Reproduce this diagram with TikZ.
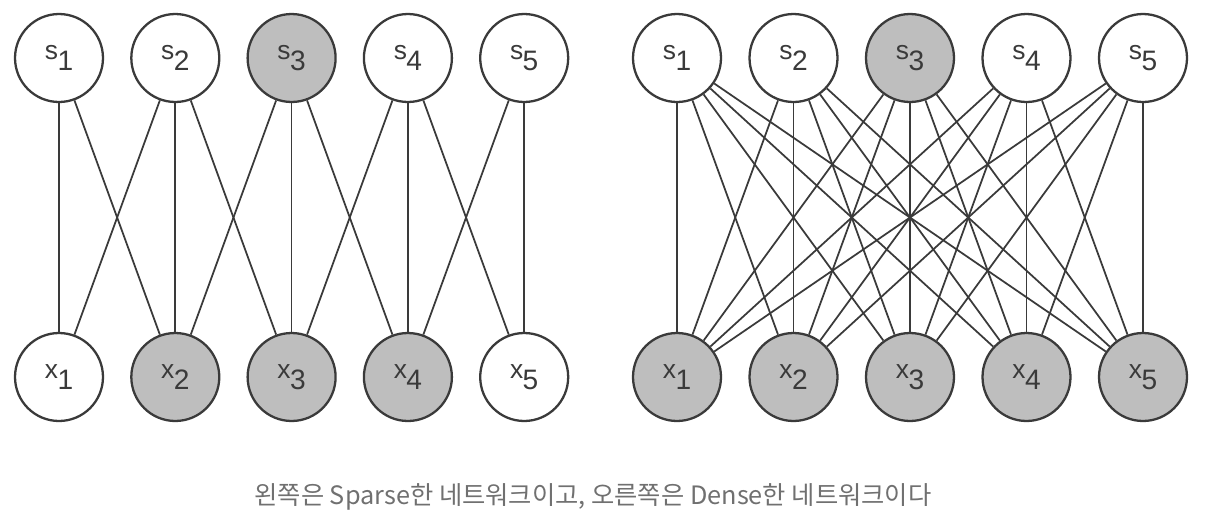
\documentclass[tikz,border=0pt]{standalone}
\usepackage{fontspec}
\setmainfont{Liberation Sans}
\newfontfamily\kofont{Noto Sans CJK KR}
\definecolor{linegray}{HTML}{3A3A3A}
\definecolor{shade}{HTML}{BEBEBE}
\definecolor{captiongray}{HTML}{707070}
\newcommand{\unitlabel}[2]{#1\hspace{-.3pt}\raisebox{-6pt}{\fontsize{16}{18}\selectfont #2}}
\tikzset{
    unit/.style={circle, draw=linegray, line width=1.3pt, minimum size=1.76cm, inner sep=0pt,
        font=\fontsize{15}{17}\selectfont, text=linegray},
    link/.style={draw=linegray, line width=1pt}
}
\begin{document}
\begin{tikzpicture}[x=.02cm, y=-.02cm]
\useasboundingbox (0,0) rectangle (1210,518);
% left: sparse
\foreach \i/\f/\g in {1/white/white,2/white/shade,3/shade/shade,4/white/shade,5/white/white}
{
    \node[unit, fill=\f] (ls\i) at (59+116.3*\i-116.3, 58) {\unitlabel{s}{\i}};
    \node[unit, fill=\g] (lx\i) at (59+116.3*\i-116.3, 377) {\unitlabel{x}{\i}};
}
\foreach \a/\b in {1/1,1/2,2/1,2/2,2/3,3/2,3/3,3/4,4/3,4/4,4/5,5/4,5/5}
{
    \draw[link] (ls\a) -- (lx\b);
}
% right: dense
\foreach \i/\f in {1/white,2/white,3/shade,4/white,5/white}
{
    \node[unit, fill=\f] (rs\i) at (677+116.5*\i-116.5, 58) {\unitlabel{s}{\i}};
    \node[unit, fill=shade] (rx\i) at (677+116.5*\i-116.5, 377) {\unitlabel{x}{\i}};
}
\foreach \a in {1,...,5}
{
    \foreach \b in {1,...,5}
    {
        \draw[link] (rs\a) -- (rx\b);
    }
}
\node[font=\kofont\fontsize{14.4}{16}\selectfont, text=captiongray] (caption) at (593, 497)
    {왼쪽은 Sparse한 네트워크이고, 오른쪽은 Dense한 네트워크이다};
\end{tikzpicture}
\end{document}
